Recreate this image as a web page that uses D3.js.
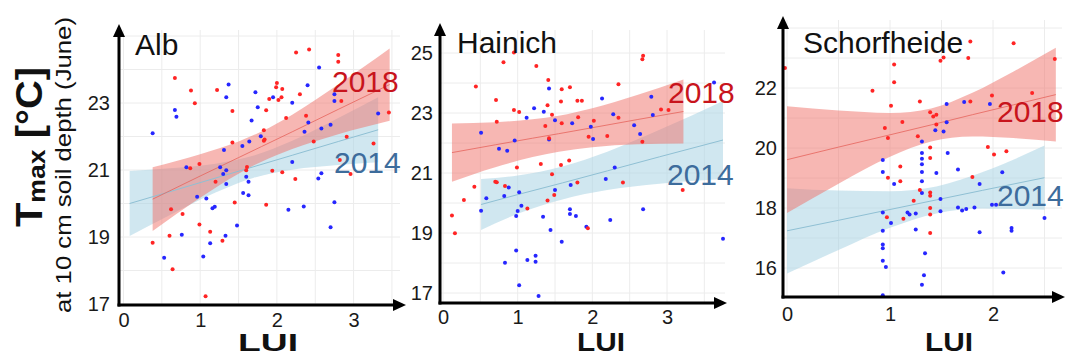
<!DOCTYPE html>
<html>
<head>
<meta charset="utf-8">
<script src="https://cdn.jsdelivr.net/npm/d3@7"></script>
<style>
  html, body { margin: 0; padding: 0; background: #fff; }
  svg { display: block; font-family: "Liberation Sans", Arial, Helvetica, sans-serif; }
</style>
</head>
<body>
<svg id="chart" width="1065" height="356"></svg>
<script>
// ---- Sites and years ----
const siteNames = ["Alb", "Hainich", "Schorfheide"];
const yearLabels = ["2018", "2014"];

// ---- Plot observations: [LUI, Tmax °C] ----
const albPts2018 = [
  [0.67,23.75],[0.88,23.37],[0.93,22.99],[1.22,23.39],[1.42,22.76],[2.25,24.51],[2.42,24.60],
  [2.80,24.43],[2.80,24.23],[1.90,23.12],[1.99,23.47],[2.00,23.60],[2.07,23.42],[2.02,23.09],
  [2.06,23.17],[1.86,22.78],[2.12,22.55],[2.30,23.26],[2.38,22.62],[2.84,23.06],[1.83,22.19],
  [1.84,21.91],[1.83,21.87],[1.42,21.82],[2.48,21.85],[2.91,21.99],[0.87,21.05],[0.99,21.18],
  [1.61,21.09],[1.60,20.99],[1.20,20.65],[1.94,20.98],[2.07,20.93],[2.24,20.73],[2.96,20.88],
  [2.82,21.30],[1.45,20.03],[1.86,19.96],[0.62,19.83],[0.77,19.69],[0.99,19.37],[1.13,19.16],
  [0.60,19.04],[0.38,18.83],[1.29,18.89],[0.64,18.04],[1.07,17.23],[3.46,22.72],[3.26,21.79]
];
const albPts2014 = [
  [0.38,22.10],[0.67,22.79],[0.69,22.59],[1.37,23.55],[1.34,23.17],[1.72,23.32],[1.75,22.87],
  [1.67,22.48],[1.95,23.17],[2.20,23.01],[2.40,23.53],[2.55,24.06],[2.75,23.26],[2.75,23.06],
  [2.41,22.42],[2.36,22.14],[2.58,22.24],[2.70,22.35],[1.79,22.01],[1.64,21.85],[1.55,21.72],
  [1.31,21.60],[0.82,21.08],[1.26,21.08],[1.34,20.99],[1.30,20.88],[1.34,20.58],[1.60,20.80],
  [1.63,20.65],[2.20,21.24],[2.58,20.90],[2.54,20.75],[0.96,20.20],[1.08,20.15],[1.56,20.31],
  [1.63,20.25],[1.16,19.86],[1.19,19.90],[2.15,19.81],[2.35,19.91],[2.75,20.04],[1.48,19.34],
  [0.76,19.07],[1.33,19.04],[2.70,19.29],[1.13,18.81],[0.53,18.38],[1.04,18.42],[3.32,22.69]
];
const hainichPts2018 = [
  [0.95,25.02],[0.81,24.69],[1.25,24.57],[0.44,23.88],[1.41,24.10],[1.59,23.79],[1.70,23.86],
  [0.71,23.43],[0.95,23.10],[1.02,23.03],[1.58,23.38],[1.40,23.26],[1.80,23.41],[1.86,23.41],
  [1.46,22.94],[0.72,22.71],[1.37,22.57],[1.59,22.66],[1.81,22.86],[1.42,22.16],[0.99,21.18],
  [1.31,21.30],[1.58,21.27],[1.69,21.42],[1.46,20.96],[0.70,20.71],[0.72,20.69],[0.83,20.57],
  [0.42,20.54],[1.80,20.68],[1.49,20.27],[1.40,20.08],[0.28,20.10],[1.13,19.82],[0.12,19.58],
  [0.16,18.99],[2.35,23.96],[2.02,22.74],[2.35,22.84],[1.95,22.21],[2.20,22.23],[2.67,22.04],
  [2.68,24.91],[2.67,24.79],[2.92,23.12],[3.02,23.10],[2.41,20.68],[3.21,20.43],[1.94,19.16]
];
const hainichPts2014 = [
  [1.42,23.82],[1.22,23.16],[1.35,23.04],[1.12,22.84],[1.50,22.76],[1.73,22.66],[1.42,22.12],
  [0.51,22.34],[0.96,22.08],[0.75,21.81],[0.86,21.74],[0.88,20.52],[0.82,20.23],[1.02,20.36],
  [0.58,20.16],[0.51,19.74],[1.50,20.43],[1.05,19.91],[1.00,19.73],[0.98,19.57],[1.34,19.54],
  [1.70,19.79],[1.70,19.63],[1.78,19.57],[1.44,19.10],[1.59,18.71],[0.98,18.42],[0.83,18.01],
  [1.13,18.10],[1.24,18.24],[1.24,18.04],[1.02,17.26],[1.28,16.90],[1.71,20.60],[2.13,23.48],
  [2.79,23.54],[2.28,22.96],[2.81,22.93],[1.98,22.54],[2.01,22.13],[2.56,22.59],[2.64,22.30],
  [2.30,21.18],[2.18,20.80],[2.68,19.79],[2.24,19.43],[1.92,19.21],[3.63,24.02],[3.75,18.81]
];
const schorfPts2018 = [
  [-0.02,22.67],[0.83,21.91],[1.04,22.78],[1.04,22.19],[1.01,21.41],[1.29,21.55],[1.12,20.87],
  [0.95,20.67],[0.98,20.33],[1.27,20.39],[1.10,19.38],[0.98,19.01],[1.10,18.89],[1.23,18.24],
  [1.29,18.60],[0.97,17.69],[1.13,17.64],[1.78,23.55],[2.20,23.49],[1.49,22.91],[1.52,23.02],
  [1.76,23.00],[2.60,22.97],[1.99,21.75],[1.78,21.55],[2.38,21.83],[1.39,21.19],[1.45,21.11],
  [1.42,21.05],[1.45,20.78],[1.39,20.02],[1.39,19.67],[1.95,20.03],[2.01,19.78],[2.13,19.89],
  [1.80,19.03],[1.39,18.52],[1.39,18.41],[1.39,18.00],[1.39,17.78],[1.39,17.17]
];
const schorfPts2014 = [
  [0.93,19.60],[0.93,19.20],[1.04,18.80],[1.31,20.22],[1.31,19.83],[1.31,19.64],[1.31,19.46],
  [1.31,19.20],[1.31,18.89],[1.31,18.50],[0.93,17.85],[1.01,17.50],[1.17,17.85],[1.19,17.78],
  [1.25,17.82],[1.25,17.28],[0.93,17.24],[0.93,16.78],[0.93,16.66],[0.93,16.24],[0.96,16.03],
  [0.93,15.09],[1.34,16.49],[1.33,15.76],[1.31,15.44],[1.55,21.47],[1.72,21.53],[1.97,21.47],
  [1.55,20.86],[1.44,20.59],[1.52,20.55],[1.56,19.83],[1.45,19.17],[1.66,19.28],[1.87,18.80],
  [2.09,19.19],[1.49,18.30],[1.49,17.89],[1.66,18.02],[1.70,17.92],[1.74,17.97],[1.82,18.02],
  [1.99,18.11],[2.03,18.11],[1.87,17.19],[2.18,17.33],[2.18,17.24],[2.50,17.67],[2.10,15.85]
];

// ---- Linear fits with confidence band: [LUI, lower, fit, upper] ----
const albBand2018 = [
  [0.38,19.18,20.13,21.08],[1.0,20.17,20.82,21.47],[1.5,20.89,21.37,21.85],[1.8,21.25,21.70,22.15],
  [2.2,21.63,22.14,22.65],[2.8,22.07,22.81,23.55],[3.47,22.47,23.55,24.63]
];
const albBand2014 = [
  [0.08,19.03,20.00,20.97],[0.6,19.65,20.35,21.05],[1.2,20.33,20.76,21.19],[1.7,20.77,21.10,21.43],
  [2.2,21.01,21.44,21.87],[2.8,21.15,21.85,22.55],[3.32,21.23,22.20,23.17]
];
const hainichBand2018 = [
  [0.12,20.71,21.68,22.65],[0.7,21.19,21.94,22.69],[1.2,21.53,22.16,22.79],[1.55,21.71,22.31,22.91],
  [2.0,21.86,22.51,23.16],[2.6,21.96,22.78,23.60],[3.22,21.98,23.05,24.12]
];
const hainichBand2014 = [
  [0.51,19.10,19.95,20.80],[1.0,19.64,20.28,20.92],[1.6,20.12,20.67,21.22],[2.2,20.43,21.07,21.71],
  [2.9,20.64,21.54,22.44],[3.75,20.80,22.10,23.40]
];
const schorfBand2018 = [
  [0.0,17.83,19.61,21.39],[0.5,18.81,20.03,21.25],[1.0,19.71,20.44,21.17],[1.4,20.22,20.77,21.32],
  [1.8,20.38,21.11,21.84],[2.2,20.33,21.44,22.55],[2.61,20.22,21.78,23.34]
];
const schorfBand2014 = [
  [0.0,15.82,17.24,18.66],[0.5,16.60,17.59,18.58],[1.0,17.34,17.95,18.56],[1.45,17.82,18.27,18.72],
  [1.9,17.98,18.59,19.20],[2.5,17.94,19.01,20.08]
];

// ---- Tick labels ----
const albXTicks = [0, 1, 2, 3];
const albYTicks = [17, 19, 21, 23];
const hainichXTicks = [0, 1, 2, 3];
const hainichYTicks = [17, 19, 21, 23, 25];
const schorfXTicks = [0, 1, 2];
const schorfYTicks = [16, 18, 20, 22];

// ---- Panel layout ----
const panels = [
  {
    name: siteNames[0], pts18: albPts2018, pts14: albPts2014, band18: albBand2018, band14: albBand2014,
    xTicks: albXTicks, yTicks: albYTicks,
    xDom: [0, 3], xRng: [123.5, 353.6], yDom: [17, 23], yRng: [304, 103],
    axisX: 119, axisY: 305, xTip: 406, yTip: 24, gridRight: 400, gridTop: 30,
    yLabPad: 9, xLabPad: 8,
    title: [135, 55], lab18: [332, 92], lab14: [334, 173],
    lui: { x: 268, y: 351, size: 24, len: 60 }
  },
  {
    name: siteNames[1], pts18: hainichPts2018, pts14: hainichPts2014, band18: hainichBand2018, band14: hainichBand2014,
    xTicks: hainichXTicks, yTicks: hainichYTicks,
    xDom: [0, 3], xRng: [443, 667], yDom: [17, 25], yRng: [293, 53],
    axisX: 440, axisY: 303, xTip: 727, yTip: 23, gridRight: 725, gridTop: 30,
    yLabPad: 7, xLabPad: 7,
    title: [457, 53], lab18: [668, 103], lab14: [667, 185],
    lui: { x: 601, y: 351, size: 26, len: 48 }
  },
  {
    name: siteNames[2], pts18: schorfPts2018, pts14: schorfPts2014, band18: schorfBand2018, band14: schorfBand2014,
    xTicks: schorfXTicks, yTicks: schorfYTicks,
    xDom: [0, 2], xRng: [787, 993], yDom: [16, 22], yRng: [268, 88],
    axisX: 783, axisY: 297, xTip: 1065, yTip: 16, gridRight: 1062, gridTop: 20,
    yLabPad: 6, xLabPad: 10,
    title: [803, 53], lab18: [997, 122], lab14: [997, 206],
    lui: { x: 949, y: 351, size: 25, len: 48 }
  }
];

const COL18 = "#ff2424", COL14 = "#2626ff";
const BAND18 = "#ef7068", BAND14 = "#a9d3e3";
const LAB18 = "#c8141c", LAB14 = "#3d6c9c";

const svg = d3.select("#chart");

panels.forEach(p => {
  const x = d3.scaleLinear().domain(p.xDom).range(p.xRng);
  const y = d3.scaleLinear().domain(p.yDom).range(p.yRng);
  const g = svg.append("g");

  // light background grid: every 0.5 LUI and every 1 °C
  const gx0 = x.invert(p.axisX), gx1 = x.invert(p.gridRight);
  const gy0 = y.invert(p.axisY), gy1 = y.invert(p.gridTop);
  const vLines = d3.range(Math.ceil(gx0 * 2) / 2, gx1, 0.5);
  const hLines = d3.range(Math.ceil(gy0), gy1, 1);
  g.append("g").selectAll("line").data(vLines).join("line")
    .attr("x1", d => x(d)).attr("x2", d => x(d))
    .attr("y1", p.gridTop).attr("y2", p.axisY)
    .attr("stroke", "#ececec").attr("stroke-width", 1);
  g.append("g").selectAll("line").data(hLines).join("line")
    .attr("x1", p.axisX).attr("x2", p.gridRight)
    .attr("y1", d => y(d)).attr("y2", d => y(d))
    .attr("stroke", "#ececec").attr("stroke-width", 1);

  // confidence bands and fitted lines
  const area = d3.area().x(d => x(d[0])).y0(d => y(d[1])).y1(d => y(d[3])).curve(d3.curveMonotoneX);
  const fit = d3.line().x(d => x(d[0])).y(d => y(d[2]));
  g.append("path").attr("d", area(p.band14)).attr("fill", BAND14).attr("fill-opacity", 0.55);
  g.append("path").attr("d", area(p.band18)).attr("fill", BAND18).attr("fill-opacity", 0.5);
  g.append("path").attr("d", fit(p.band14)).attr("fill", "none").attr("stroke", "#8fc0d4").attr("stroke-width", 1);
  g.append("path").attr("d", fit(p.band18)).attr("fill", "none").attr("stroke", "#e6645c").attr("stroke-width", 1).attr("stroke-opacity", 0.8);

  // observations
  g.append("g").selectAll("circle").data(p.pts14).join("circle")
    .attr("cx", d => x(d[0])).attr("cy", d => y(d[1])).attr("r", 2).attr("fill", COL14);
  g.append("g").selectAll("circle").data(p.pts18).join("circle")
    .attr("cx", d => x(d[0])).attr("cy", d => y(d[1])).attr("r", 2).attr("fill", COL18);

  // year labels
  g.append("text").attr("x", p.lab18[0]).attr("y", p.lab18[1]).text(yearLabels[0])
    .attr("font-size", 30).attr("fill", LAB18);
  g.append("text").attr("x", p.lab14[0]).attr("y", p.lab14[1]).text(yearLabels[1])
    .attr("font-size", 30).attr("fill", LAB14);

  // tick labels from d3 axes (no tick marks)
  const ay = g.append("g").attr("transform", `translate(${p.axisX},0)`)
    .call(d3.axisLeft(y).tickValues(p.yTicks).tickSize(0).tickPadding(p.yLabPad).tickFormat(d3.format("d")));
  const ax = g.append("g").attr("transform", `translate(0,${p.axisY})`)
    .call(d3.axisBottom(x).tickValues(p.xTicks).tickSize(0).tickPadding(p.xLabPad).tickFormat(d3.format("d")));
  [ay, ax].forEach(a => {
    a.select(".domain").remove();
    a.selectAll("text").attr("font-size", 20).attr("fill", "#1a1a1a")
      .attr("font-family", "\"Liberation Sans\", Arial, sans-serif");
  });

  // axis lines with arrowheads
  const head = 13, half = 6;
  g.append("line").attr("x1", p.axisX).attr("x2", p.axisX)
    .attr("y1", p.axisY + 1.5).attr("y2", p.yTip + head - 2)
    .attr("stroke", "#000").attr("stroke-width", 3);
  g.append("path")
    .attr("d", `M${p.axisX},${p.yTip} L${p.axisX - half},${p.yTip + head} L${p.axisX + half},${p.yTip + head} Z`)
    .attr("fill", "#000");
  g.append("line").attr("x1", p.axisX - 1.5).attr("x2", p.xTip - head + 2)
    .attr("y1", p.axisY).attr("y2", p.axisY)
    .attr("stroke", "#000").attr("stroke-width", 3);
  g.append("path")
    .attr("d", `M${p.xTip},${p.axisY} L${p.xTip - head},${p.axisY - half} L${p.xTip - head},${p.axisY + half} Z`)
    .attr("fill", "#000");

  // site title and x-axis title
  g.append("text").attr("x", p.title[0]).attr("y", p.title[1]).text(p.name)
    .attr("font-size", 30).attr("fill", "#111");
  g.append("text").attr("x", p.lui.x - p.lui.len / 2).attr("y", p.lui.y).text("LUI")
    .attr("font-weight", "bold").attr("font-size", p.lui.size).attr("fill", "#111")
    .attr("textLength", p.lui.len).attr("lengthAdjust", "spacingAndGlyphs");
});

// shared y-axis title
const yt = svg.append("text")
  .attr("transform", "translate(42,227) rotate(-90)")
  .attr("font-weight", "bold").attr("fill", "#111")
  .attr("textLength", 160).attr("lengthAdjust", "spacingAndGlyphs");
yt.append("tspan").attr("font-size", 36).text("T");
yt.append("tspan").attr("font-size", 24).attr("dy", 3).text("max");
yt.append("tspan").attr("font-size", 36).attr("dy", -3).text(" [°C]");

svg.append("text")
  .attr("transform", "translate(71,313) rotate(-90)")
  .attr("font-size", 22).attr("fill", "#111")
  .attr("textLength", 296).attr("lengthAdjust", "spacingAndGlyphs")
  .text("at 10 cm soil depth (June)");
</script>
</body>
</html>
